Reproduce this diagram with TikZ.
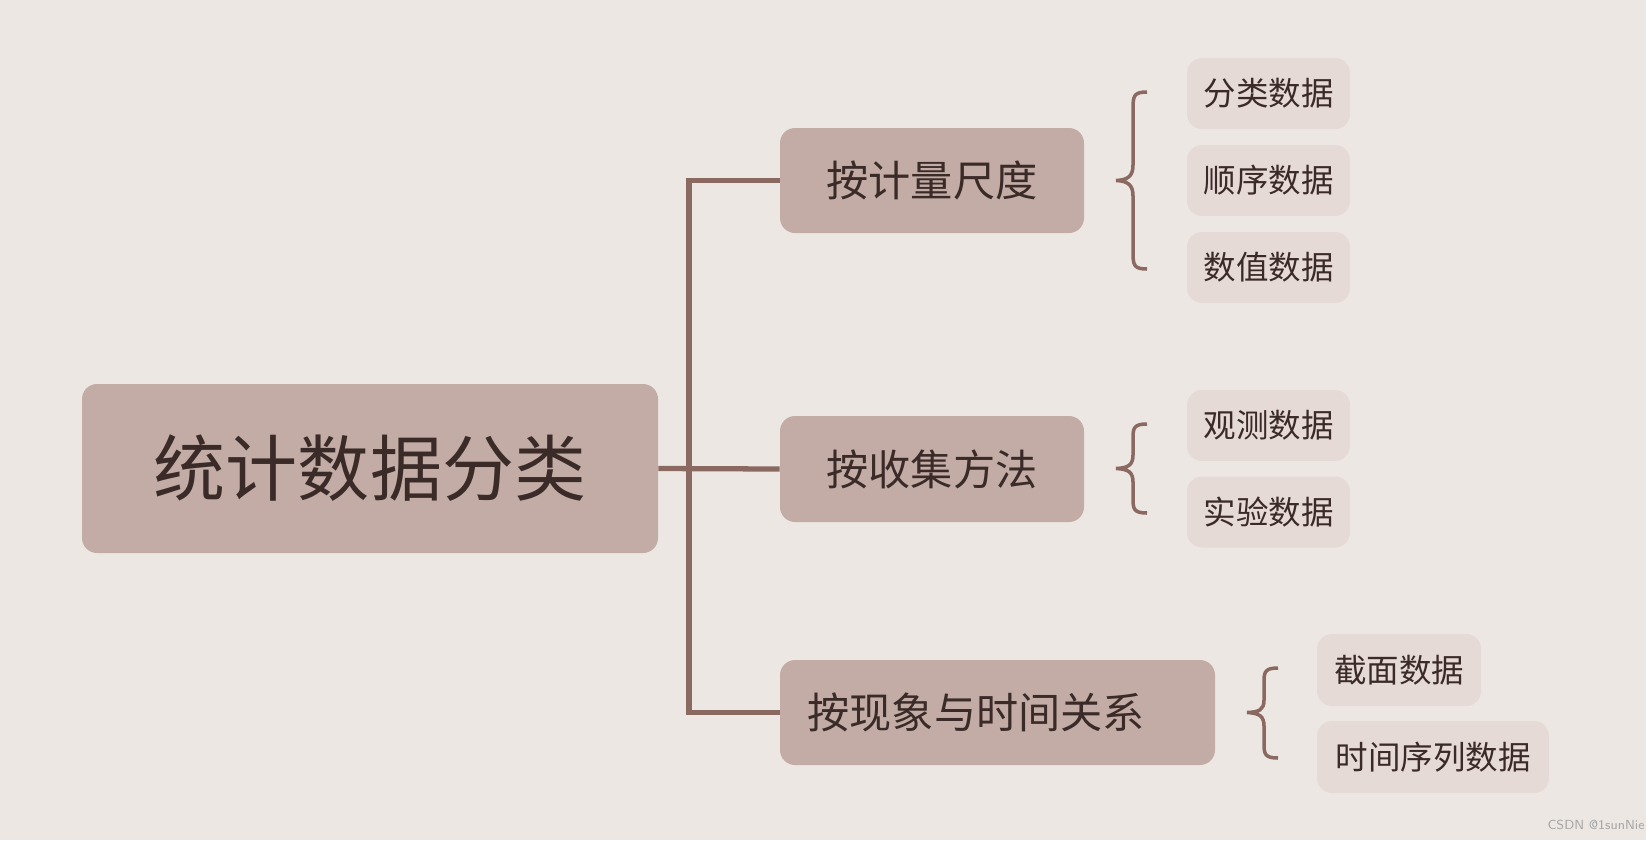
\documentclass[tikz,border=0pt]{standalone}
\usepackage{fontspec}
\newfontfamily\cjk{Noto Sans CJK SC}
\definecolor{bg}{HTML}{EDE7E4}
\definecolor{boxc}{HTML}{C2ACA5}
\definecolor{leafc}{HTML}{E6DAD7}
\definecolor{linec}{HTML}{8A6A60}
\definecolor{txt}{HTML}{3A2A28}
\begin{document}
\begin{tikzpicture}[x=0.02cm,y=-0.02cm,
  box/.style={fill=boxc,rounded corners=0.3cm,inner sep=0,text=txt},
  mid/.style={box,font=\cjk\fontsize{24}{28}\selectfont},
  leaf/.style={fill=leafc,rounded corners=0.3cm,inner sep=0,text=txt,font=\cjk\fontsize{18.5}{22}\selectfont},
  conn/.style={draw=linec,line width=3pt},
  br/.style={draw=linec,line width=2pt}]
\fill[bg] (0,0) rectangle (1646,840);
\useasboundingbox (0,0) rectangle (1646,840);
\node[box,minimum width=576*0.02cm,minimum height=169*0.02cm,font=\cjk\fontsize{41}{46}\selectfont] (root) at (370,468.5) {统计数据分类};
\node[mid,minimum width=304*0.02cm,minimum height=105*0.02cm] (m1) at (932,180.5) {按计量尺度};
\node[mid,minimum width=304*0.02cm,minimum height=106*0.02cm] (m2) at (932,469) {按收集方法};
\node[mid,minimum width=435*0.02cm,minimum height=105*0.02cm,align=left,text width=380*0.02cm] (m3) at (997.5,712.5) {按现象与时间关系};
\coordinate (j) at (689,468);
\draw[conn] (root.east) -- (m2.west);
\draw[conn,line cap=butt] (m1.west) -- (689,180.5) -- (689,712.5) -- (m3.west);
% leaves
\node[leaf,minimum width=163*0.02cm,minimum height=71*0.02cm] (l1) at (1268.5,93.5) {分类数据};
\node[leaf,minimum width=163*0.02cm,minimum height=71*0.02cm] (l2) at (1268.5,180.5) {顺序数据};
\node[leaf,minimum width=163*0.02cm,minimum height=71*0.02cm] (l3) at (1268.5,267.5) {数值数据};
\node[leaf,minimum width=163*0.02cm,minimum height=71*0.02cm] (l4) at (1268.5,425.5) {观测数据};
\node[leaf,minimum width=163*0.02cm,minimum height=71*0.02cm] (l5) at (1268.5,512) {实验数据};
\node[leaf,minimum width=164*0.02cm,minimum height=72*0.02cm] (l6) at (1399,670) {截面数据};
\node[leaf,minimum width=232*0.02cm,minimum height=72*0.02cm] (l7) at (1433,757) {时间序列数据};
% braces
\draw[br] (1147,92) .. controls (1134,92) and (1133,96) .. (1133,108) -- (1133,165)
  .. controls (1133,176) and (1128,180) .. (1116,180.5)
  .. controls (1128,181) and (1133,185) .. (1133,196) -- (1133,253)
  .. controls (1133,265) and (1134,269) .. (1147,269);
\draw[br] (1147,424) .. controls (1134,424) and (1133,428) .. (1133,438) -- (1133,455)
  .. controls (1133,465) and (1128,468) .. (1116,468.5)
  .. controls (1128,469) and (1133,472) .. (1133,482) -- (1133,499)
  .. controls (1133,509) and (1134,513) .. (1147,513);
\draw[br] (1278,668) .. controls (1265,668) and (1264,672) .. (1264,682) -- (1264,700)
  .. controls (1264,710) and (1259,712) .. (1247,712.5)
  .. controls (1259,713) and (1264,716) .. (1264,726) -- (1264,744)
  .. controls (1264,754) and (1265,758) .. (1278,758);
\node[text=gray!70,font=\sffamily\fontsize{7.5}{9}\selectfont] (wm) at (1596,825) {CSDN @1sunNie};
\end{tikzpicture}
\end{document}
